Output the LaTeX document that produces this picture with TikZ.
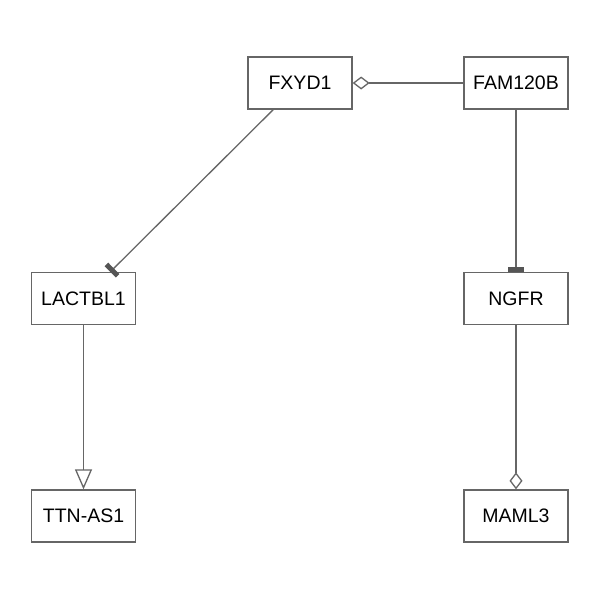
\documentclass[tikz,border=0pt]{standalone}
\usepackage{fontspec}
\setmainfont{Liberation Sans}
\usetikzlibrary{arrows.meta}
\definecolor{edge}{HTML}{666666}
\definecolor{teec}{HTML}{555555}
\tikzset{
  gene/.style={draw=edge, line width=1.3pt, fill=white, minimum width=104pt, minimum height=52pt, inner sep=0pt, font=\fontsize{19.5}{22}\selectfont},
  link/.style={draw=edge, line width=1.3pt},
  teeend/.style={link, -{Rectangle[length=5pt,width=16pt,color=teec,fill=teec]}},
  diaend/.style={link, -{Diamond[open,length=17pt,width=13pt,fill=white]}},
  triend/.style={link, -{Triangle[open,length=20pt,width=17pt,fill=white]}},
}
\begin{document}
\begin{tikzpicture}[x=1pt,y=-1pt]
\useasboundingbox (0,0) rectangle (600,600);
\node[gene] (fxyd1) at (300,83) {FXYD1};
\node[gene] (fam120b) at (516,83) {FAM120B};
\node[gene] (lactbl1) at (83.5,298.5) {LACTBL1};
\node[gene] (ngfr) at (516,298.5) {NGFR};
\node[gene] (ttnas1) at (83.5,516) {TTN-AS1};
\node[gene] (maml3) at (516,516) {MAML3};
\draw[diaend] (fam120b) -- (fxyd1);
\draw[teeend] (fxyd1) -- (lactbl1);
\draw[teeend] (fam120b) -- (ngfr);
\draw[triend] (lactbl1) -- (ttnas1);
\draw[diaend] (ngfr) -- (maml3);
\end{tikzpicture}
\end{document}
